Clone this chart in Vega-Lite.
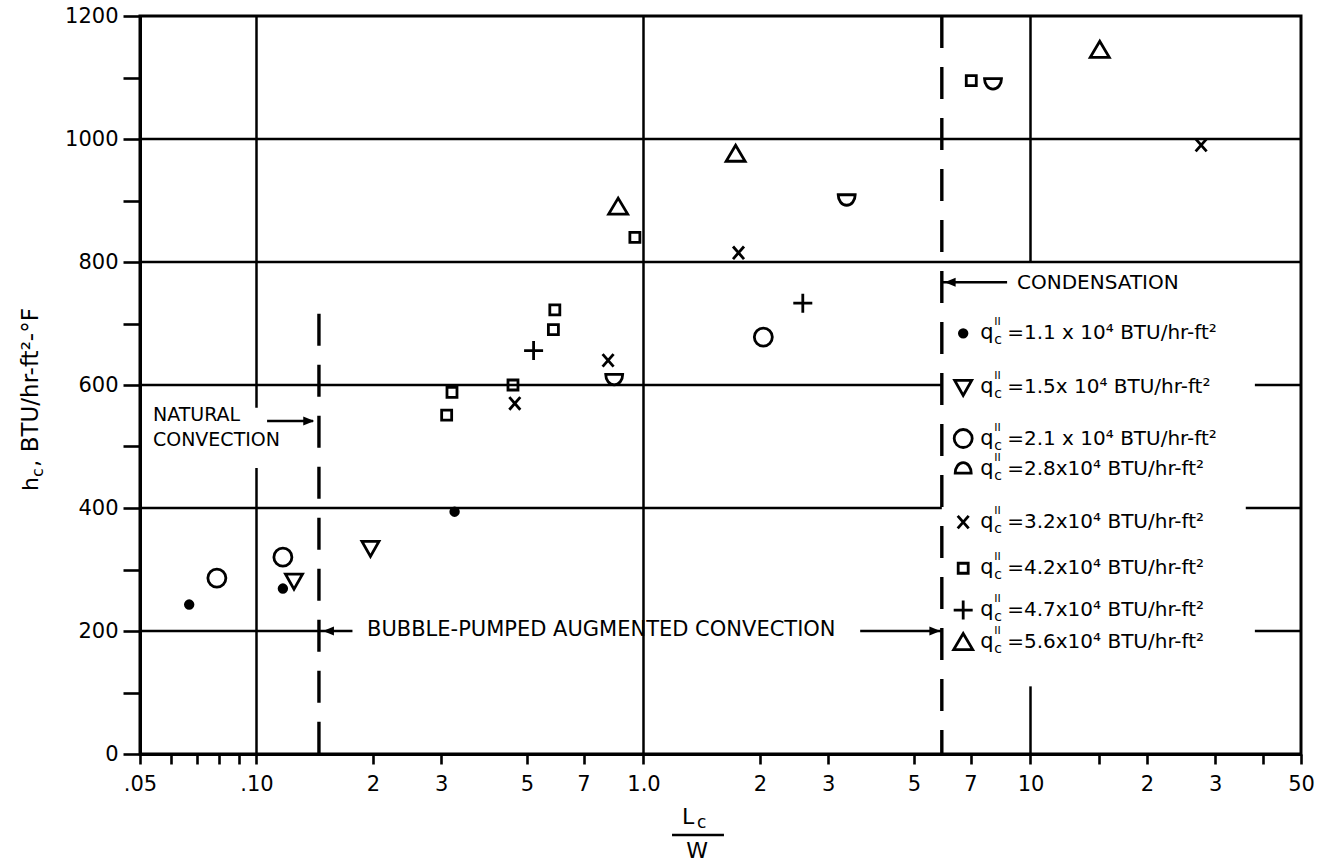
{
  "$schema": "https://vega.github.io/schema/vega-lite/v6.json",
  "width": 1161,
  "height": 738,
  "autosize": {"type": "none"},
  "padding": {"left": 140, "top": 16, "right": 25, "bottom": 108},
  "background": "white",
  "config": {
    "view": {"stroke": "black", "strokeWidth": 3},
    "font": "DejaVu Sans",
    "text": {"color": "black"},
    "axis": {
      "grid": false,
      "tickColor": "black",
      "tickWidth": 2.6,
      "domainColor": "black",
      "domainWidth": 3,
      "labelColor": "black",
      "labelFont": "DejaVu Sans",
      "labelFontSize": 21,
      "labelOverlap": false,
      "labelFlush": false
    }
  },
  "datasets": {
    "lines": [
      {"x": 0.05, "x2": 50, "y": 1000, "y2": 1000},
      {"x": 0.05, "x2": 50, "y": 800, "y2": 800},
      {"x": 0.05, "x2": 5.9, "y": 600, "y2": 600},
      {"x": 38, "x2": 50, "y": 600, "y2": 600},
      {"x": 0.05, "x2": 5.9, "y": 400, "y2": 400},
      {"x": 36, "x2": 50, "y": 400, "y2": 400},
      {"x": 0.05, "x2": 0.177, "y": 200, "y2": 200},
      {"x": 3.63, "x2": 5.9, "y": 200, "y2": 200},
      {"x": 38, "x2": 50, "y": 200, "y2": 200},
      {"x": 0.1, "x2": 0.1, "y": 0, "y2": 465},
      {"x": 0.1, "x2": 0.1, "y": 563, "y2": 1200},
      {"x": 1, "x2": 1, "y": 0, "y2": 1200},
      {"x": 10, "x2": 10, "y": 0, "y2": 110},
      {"x": 10, "x2": 10, "y": 800, "y2": 1200},
      {"x": 0.1065, "x2": 0.14, "y": 541.5, "y2": 541.5},
      {"x": 5.9, "x2": 8.7, "y": 767, "y2": 767},
      {"x": 1.185, "x2": 1.614, "y": -131.7, "y2": -131.7}
    ],
    "dashes": [
      {"x": 0.145, "y": 716, "y2": 0},
      {"x": 5.9, "y": 1200, "y2": 0}
    ],
    "heads": [
      {"x": 0.141, "y": 541.5, "a": 0},
      {"x": 0.1485, "y": 200, "a": 180},
      {"x": 5.85, "y": 200, "a": 0},
      {"x": 6.0, "y": 767, "a": 180}
    ],
    "notes": [
      {"x": 0.193, "y": 192, "text": "BUBBLE-PUMPED AUGMENTED CONVECTION", "fs": 21},
      {"x": 0.054, "y": 541.5, "text": "NATURAL", "fs": 19},
      {"x": 0.054, "y": 501, "text": "CONVECTION", "fs": 19},
      {"x": 9.23, "y": 756, "text": "CONDENSATION", "fs": 20},
      {"x": 1.258, "y": -113.8, "text": "L", "fs": 22},
      {"x": 1.375, "y": -120.3, "text": "c", "fs": 17},
      {"x": 1.29, "y": -169, "text": "W", "fs": 22}
    ],
    "ytitle": [
      {"x": 0.02724, "y": 427.6, "text": "h", "fs": 22},
      {"x": 0.02806, "y": 450.4, "text": "c", "fs": 16},
      {"x": 0.02724, "y": 466.7, "text": ",  BTU/hr-ft²-°F", "fs": 23}
    ],
    "pts": [
      {"x": 0.067, "y": 243, "s": "1.1"},
      {"x": 0.117, "y": 269, "s": "1.1"},
      {"x": 0.325, "y": 394, "s": "1.1"},
      {"x": 0.125, "y": 282, "s": "1.5"},
      {"x": 0.197, "y": 335, "s": "1.5"},
      {"x": 0.079, "y": 286, "s": "2.1"},
      {"x": 0.117, "y": 320, "s": "2.1"},
      {"x": 2.04, "y": 678, "s": "2.1"},
      {"x": 0.84, "y": 610, "s": "2.8"},
      {"x": 3.35, "y": 902, "s": "2.8"},
      {"x": 8.0, "y": 1091, "s": "2.8"},
      {"x": 0.465, "y": 570, "s": "3.2"},
      {"x": 0.81, "y": 640, "s": "3.2"},
      {"x": 1.76, "y": 815, "s": "3.2"},
      {"x": 27.6, "y": 990, "s": "3.2"},
      {"x": 0.31, "y": 551, "s": "4.2"},
      {"x": 0.32, "y": 588, "s": "4.2"},
      {"x": 0.46, "y": 600, "s": "4.2"},
      {"x": 0.585, "y": 690, "s": "4.2"},
      {"x": 0.59, "y": 722, "s": "4.2"},
      {"x": 0.95, "y": 840, "s": "4.2"},
      {"x": 7.03, "y": 1095, "s": "4.2"},
      {"x": 0.52, "y": 656, "s": "4.7"},
      {"x": 2.58, "y": 733, "s": "4.7"},
      {"x": 0.86, "y": 890, "s": "5.6"},
      {"x": 1.73, "y": 976, "s": "5.6"},
      {"x": 15.1, "y": 1145, "s": "5.6"}
    ],
    "legend": [
      {"x": 6.7, "y": 684, "s": "1.1", "t": "=1.1 x 10⁴ BTU/hr-ft²"},
      {"x": 6.7, "y": 597, "s": "1.5", "t": "=1.5x 10⁴ BTU/hr-ft²"},
      {"x": 6.7, "y": 513, "s": "2.1", "t": "=2.1 x 10⁴ BTU/hr-ft²"},
      {"x": 6.7, "y": 464, "s": "2.8L", "t": "=2.8x10⁴ BTU/hr-ft²"},
      {"x": 6.7, "y": 377, "s": "3.2", "t": "=3.2x10⁴ BTU/hr-ft²"},
      {"x": 6.7, "y": 302, "s": "4.2", "t": "=4.2x10⁴ BTU/hr-ft²"},
      {"x": 6.7, "y": 234, "s": "4.7", "t": "=4.7x10⁴ BTU/hr-ft²"},
      {"x": 6.7, "y": 182, "s": "5.6", "t": "=5.6x10⁴ BTU/hr-ft²"}
    ]
  },
  "encoding": {
    "x": {
      "field": "x", "type": "quantitative",
      "scale": {"type": "log", "domain": [0.05, 50], "nice": false},
      "axis": {
        "title": null,
        "values": [0.05, 0.06, 0.07, 0.08, 0.09, 0.1, 0.2, 0.3, 0.5, 0.7, 1, 2, 3, 5, 7, 10, 15, 20, 30, 40, 50],
        "labelExpr": "datum.value == 0.05 ? '.05' : datum.value == 0.1 ? '.10' : datum.value == 1 ? '1.0' : datum.value == 10 ? '10' : datum.value == 50 ? '50' : (datum.value > 0.05 && datum.value < 0.1) || datum.value == 15 || datum.value == 40 ? '' : datum.value < 1 ? format(datum.value * 10, '.0f') : datum.value < 10 ? format(datum.value, '.0f') : format(datum.value / 10, '.0f')",
        "tickSize": 10,
        "labelPadding": 9
      }
    },
    "y": {
      "field": "y", "type": "quantitative",
      "scale": {"domain": [0, 1200], "nice": false, "zero": false},
      "axis": {
        "title": null,
        "values": [0, 100, 200, 300, 400, 500, 600, 700, 800, 900, 1000, 1100, 1200],
        "labelExpr": "datum.value % 200 == 0 ? format(datum.value, 'd') : ''",
        "tickSize": 17,
        "labelPadding": 5
      }
    }
  },
  "layer": [
    {
      "data": {"name": "lines"},
      "mark": {"type": "rule", "color": "black", "strokeWidth": 2.5},
      "encoding": {
        "x2": {"field": "x2"},
        "y2": {"field": "y2"}
      }
    },
    {
      "data": {"name": "dashes"},
      "mark": {"type": "rule", "color": "black", "strokeWidth": 3.4, "strokeDash": [32, 19]},
      "encoding": {
        "y2": {"field": "y2"}
      }
    },
    {
      "data": {"name": "heads"},
      "mark": {"type": "point", "shape": "M0,0L-11,-4.5L-11,4.5Z", "size": 4, "filled": true, "color": "black", "opacity": 1},
      "encoding": {
        "angle": {"field": "a", "type": "quantitative", "scale": null}
      }
    },
    {
      "data": {"name": "notes"},
      "mark": {"type": "text", "align": "left", "baseline": "alphabetic", "color": "black", "font": "DejaVu Sans"},
      "encoding": {
        "text": {"field": "text"},
        "size": {"field": "fs", "type": "quantitative", "scale": null}
      }
    },
    {
      "data": {"name": "ytitle"},
      "mark": {"type": "text", "align": "left", "baseline": "alphabetic", "angle": 270, "color": "black", "font": "DejaVu Sans"},
      "encoding": {
        "text": {"field": "text"},
        "size": {"field": "fs", "type": "quantitative", "scale": null}
      }
    },
    {
      "data": {"name": "pts"},
      "mark": {"type": "point", "size": 4, "filled": false, "stroke": "black", "strokeWidth": 2.8, "opacity": 1},
      "encoding": {
        "shape": {
          "field": "s", "type": "nominal", "legend": null,
          "scale": {
            "domain": ["1.1", "1.5", "2.1", "2.8", "3.2", "4.2", "4.7", "5.6", "2.8L"],
            "range": [
              "M3.8,0A3.8,3.8 0 1,1 -3.8,0A3.8,3.8 0 1,1 3.8,0Z",
              "M-8.5,-6.5L8.5,-6.5L0,8.5Z",
              "M9,0A9,9 0 1,1 -9,0A9,9 0 1,1 9,0Z",
              "M-8.5,-4.5L8.5,-4.5C8.5,1 5,6 0,6C-5,6 -8.5,1 -8.5,-4.5Z",
              "M-5.5,-6.3L5.5,6.3M-5.5,6.3L5.5,-6.3",
              "M-5,-5H5V5H-5Z",
              "M-9.5,0H9.5M0,-9.5V9.5",
              "M-9.5,7.5L9.5,7.5L0,-8.5Z",
              "M-8,4.5L8,4.5C8,-1 4.7,-6 0,-6C-4.7,-6 -8,-1 -8,4.5Z"
            ]
          }
        },
        "fill": {
          "field": "s", "type": "nominal", "legend": null,
          "scale": {
            "domain": ["1.1", "1.5", "2.1", "2.8", "3.2", "4.2", "4.7", "5.6", "2.8L"],
            "range": ["black", "transparent", "transparent", "transparent", "transparent", "transparent", "transparent", "transparent", "transparent"]
          }
        }
      }
    },
    {
      "data": {"name": "legend"},
      "mark": {"type": "point", "size": 4, "filled": false, "stroke": "black", "strokeWidth": 2.8, "opacity": 1},
      "encoding": {
        "shape": {
          "field": "s", "type": "nominal", "legend": null,
          "scale": {
            "domain": ["1.1", "1.5", "2.1", "2.8", "3.2", "4.2", "4.7", "5.6", "2.8L"],
            "range": [
              "M3.8,0A3.8,3.8 0 1,1 -3.8,0A3.8,3.8 0 1,1 3.8,0Z",
              "M-8.5,-6.5L8.5,-6.5L0,8.5Z",
              "M9,0A9,9 0 1,1 -9,0A9,9 0 1,1 9,0Z",
              "M-8.5,-4.5L8.5,-4.5C8.5,1 5,6 0,6C-5,6 -8.5,1 -8.5,-4.5Z",
              "M-5.5,-6.3L5.5,6.3M-5.5,6.3L5.5,-6.3",
              "M-5,-5H5V5H-5Z",
              "M-9.5,0H9.5M0,-9.5V9.5",
              "M-9.5,7.5L9.5,7.5L0,-8.5Z",
              "M-8,4.5L8,4.5C8,-1 4.7,-6 0,-6C-4.7,-6 -8,-1 -8,4.5Z"
            ]
          }
        },
        "fill": {
          "field": "s", "type": "nominal", "legend": null,
          "scale": {
            "domain": ["1.1", "1.5", "2.1", "2.8", "3.2", "4.2", "4.7", "5.6", "2.8L"],
            "range": ["black", "transparent", "transparent", "transparent", "transparent", "transparent", "transparent", "transparent", "transparent"]
          }
        }
      }
    },
    {
      "data": {"name": "legend"},
      "mark": {"type": "text", "align": "left", "baseline": "middle", "dx": 17, "fontSize": 21, "color": "black", "font": "DejaVu Sans"},
      "encoding": {
        "text": {"value": "q"}
      }
    },
    {
      "data": {"name": "legend"},
      "mark": {"type": "text", "align": "left", "baseline": "middle", "dx": 31, "dy": 7, "fontSize": 14, "color": "black", "font": "DejaVu Sans"},
      "encoding": {
        "text": {"value": "c"}
      }
    },
    {
      "data": {"name": "legend"},
      "mark": {"type": "text", "align": "left", "baseline": "middle", "dx": 31, "dy": -11, "fontSize": 11, "color": "black", "font": "DejaVu Sans"},
      "encoding": {
        "text": {"value": "II"}
      }
    },
    {
      "data": {"name": "legend"},
      "mark": {"type": "text", "align": "left", "baseline": "middle", "dx": 44, "fontSize": 20, "color": "black", "font": "DejaVu Sans"},
      "encoding": {
        "text": {"field": "t"}
      }
    }
  ]
}
